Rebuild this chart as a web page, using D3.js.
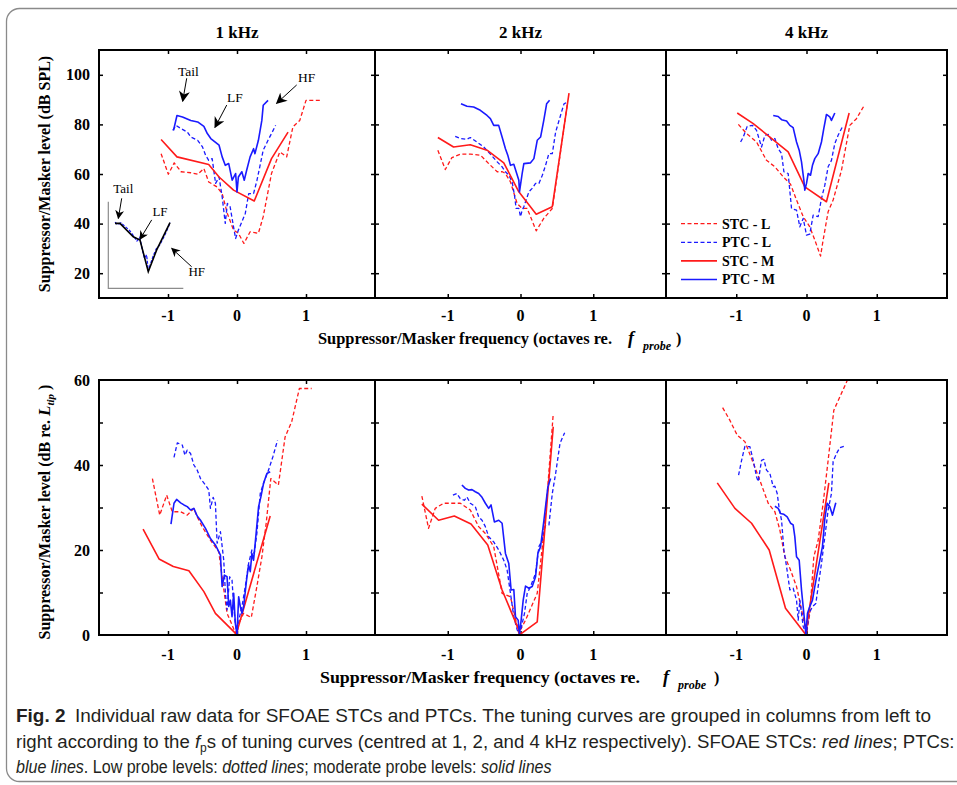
<!DOCTYPE html>
<html><head><meta charset="utf-8">
<script src="https://cdn.jsdelivr.net/npm/d3@7/dist/d3.min.js"></script>
<style>body{margin:0;background:#fff}svg{display:block}</style>
</head><body><svg id="chart" width="957" height="785"></svg>
<script>
// ---------------- DATA ----------------
const columnTitles = ["1 kHz", "2 kHz", "4 kHz"];
const xTickValues = [-1, 0, 1];
const topYTicks = [20, 40, 60, 80, 100];
const bottomYTickMarks = [10, 20, 30, 40, 50];
const bottomYTickLabels = [0, 20, 40, 60];
const legendLabels = ["STC - L", "PTC - L", "STC - M", "PTC - M"];

// Top row (dB SPL)  [octaves re. fprobe, level]
const top1_STC_L = [[-1.10,68.2],[-0.995,59.9],[-0.91,64.5],[-0.81,60.9],[-0.67,60.5],[-0.57,59.9],[-0.48,62.2],[-0.41,56.8],[-0.29,54.8],[-0.215,52.1],[-0.14,44.1],[-0.05,37.4],[0.02,36.1],[0.10,32.0],[0.19,36.7],[0.31,36.1],[0.38,42.8],[0.50,60.2],[0.62,68.9],[0.72,66.9],[0.81,79.0],[0.91,81.6],[1.00,89.7],[1.20,89.7]];
const top1_PTC_L = [[-0.93,77.6],[-0.885,79.6],[-0.81,78.3],[-0.72,76.9],[-0.67,74.9],[-0.57,73.6],[-0.50,70.9],[-0.455,67.6],[-0.41,65.5],[-0.36,66.2],[-0.31,56.2],[-0.26,58.8],[-0.215,50.8],[-0.17,40.1],[-0.14,48.1],[-0.10,46.8],[-0.05,38.7],[-0.02,34.0],[0.02,37.4],[0.07,40.7],[0.12,44.1],[0.17,52.1],[0.24,52.1],[0.29,57.5],[0.33,62.9],[0.38,69.6],[0.45,73.6],[0.50,76.3],[0.56,79.6]];
const top1_STC_M = [[-1.10,73.9],[-0.87,66.9],[-0.41,63.8],[-0.26,58.8],[-0.05,53.5],[0.25,49.1],[0.50,66.2],[0.74,76.9]];
const top1_PTC_M = [[-0.92,77.6],[-0.87,83.6],[-0.79,83.0],[-0.67,81.6],[-0.57,81.0],[-0.48,79.2],[-0.43,76.3],[-0.38,74.3],[-0.26,71.6],[-0.215,66.9],[-0.17,63.5],[-0.12,64.2],[-0.07,57.5],[-0.02,60.2],[0.0,52.8],[0.02,58.8],[0.07,60.9],[0.105,57.5],[0.14,61.5],[0.19,66.9],[0.24,70.2],[0.26,68.2],[0.31,73.6],[0.36,81.6],[0.38,87.7],[0.45,89.7]];

const top2_STC_L = [[-1.136,69.6],[-1.034,61.8],[-0.943,66.6],[-0.828,68.0],[-0.69,68.0],[-0.55,67.6],[-0.437,64.2],[-0.32,60.9],[-0.25,60.9],[-0.207,60.2],[-0.138,56.8],[-0.046,48.1],[0.023,46.1],[0.092,46.1],[0.216,37.1],[0.32,42.1],[0.437,46.1],[0.55,68.9],[0.644,88.3]];
const top2_PTC_L = [[-0.897,75.2],[-0.828,74.3],[-0.736,74.0],[-0.69,74.7],[-0.598,72.9],[-0.506,70.9],[-0.414,68.0],[-0.32,64.9],[-0.253,62.9],[-0.207,60.9],[-0.16,59.5],[-0.115,56.8],[-0.083,51.5],[-0.06,46.1],[-0.023,46.1],[0.0,42.8],[0.023,45.4],[0.046,46.8],[0.069,48.8],[0.115,52.8],[0.16,54.2],[0.207,56.2],[0.253,56.2],[0.30,59.5],[0.345,63.5],[0.39,68.2],[0.437,68.2],[0.483,76.9],[0.55,83.6],[0.598,88.3],[0.644,89.0]];
const top2_STC_M = [[-1.136,74.7],[-0.92,70.9],[-0.69,71.8],[-0.46,69.6],[-0.23,64.5],[-0.023,52.8],[0.216,43.8],[0.437,46.8],[0.667,92.6]];
const top2_PTC_M = [[-0.818,88.3],[-0.736,87.3],[-0.644,87.0],[-0.552,85.7],[-0.46,83.6],[-0.414,82.3],[-0.368,79.6],[-0.30,79.6],[-0.253,74.9],[-0.207,70.2],[-0.175,67.6],[-0.138,63.5],[-0.092,63.9],[-0.023,57.5],[-0.014,52.8],[0.023,60.2],[0.046,64.2],[0.138,64.5],[0.184,66.2],[0.23,73.6],[0.276,74.9],[0.32,81.6],[0.359,88.3],[0.40,89.7]];

const top3_STC_L = [[-0.97,80.0],[-0.853,76.3],[-0.711,72.9],[-0.569,65.5],[-0.45,62.9],[-0.33,58.8],[-0.227,55.9],[-0.142,49.5],[-0.047,42.8],[0.047,38.7],[0.118,33.4],[0.20,26.9],[0.237,33.4],[0.308,44.8],[0.379,49.5],[0.498,61.5],[0.616,79.6],[0.711,82.3],[0.815,87.3]];
const top3_PTC_L = [[-0.938,72.9],[-0.90,74.9],[-0.844,79.2],[-0.768,79.6],[-0.711,77.6],[-0.64,70.9],[-0.592,75.6],[-0.545,76.0],[-0.498,73.6],[-0.45,74.3],[-0.403,70.2],[-0.355,68.2],[-0.322,60.9],[-0.261,60.2],[-0.213,46.1],[-0.142,45.4],[-0.095,38.7],[-0.047,42.1],[0.0,35.4],[0.047,35.8],[0.095,43.4],[0.166,42.8],[0.213,50.1],[0.261,55.5],[0.308,62.9],[0.355,65.5],[0.403,72.3],[0.45,75.6],[0.521,79.6]];
const top3_STC_M = [[-0.986,84.6],[-0.758,80.3],[-0.521,74.9],[-0.261,68.9],[-0.024,54.8],[0.284,48.8],[0.607,84.6]];
const top3_PTC_M = [[-0.474,83.6],[-0.403,83.2],[-0.355,81.9],[-0.284,81.4],[-0.237,79.6],[-0.19,78.7],[-0.142,72.9],[-0.104,69.6],[-0.071,64.9],[-0.038,57.5],[-0.024,53.5],[0.0,56.2],[0.024,60.2],[0.057,59.5],[0.085,63.5],[0.118,66.2],[0.166,68.2],[0.213,72.9],[0.246,78.3],[0.284,84.0],[0.332,83.0],[0.355,81.6],[0.403,84.6]];

// Bottom row (dB re. Ltip)
const bot1_STC_L = [[-1.226,36.8],[-1.12,28.2],[-1.019,32.9],[-0.938,29.0],[-0.817,29.0],[-0.721,28.2],[-0.625,29.8],[-0.577,27.8],[-0.505,25.5],[-0.385,22.3],[-0.264,19.6],[-0.216,13.7],[-0.144,5.1],[-0.072,2.4],[-0.024,0.4],[0.024,2.7],[0.096,5.1],[0.207,4.1],[0.288,11.4],[0.361,18.4],[0.423,26.3],[0.49,36.8],[0.60,35.3],[0.697,46.6],[0.793,50.2],[0.904,58.0],[1.082,58.0]];
const bot1_PTC_L = [[-0.913,41.8],[-0.865,45.2],[-0.793,44.7],[-0.755,42.3],[-0.721,43.5],[-0.673,42.7],[-0.625,40.0],[-0.577,38.8],[-0.529,36.8],[-0.457,35.3],[-0.409,34.1],[-0.385,29.8],[-0.346,32.4],[-0.313,31.0],[-0.288,21.6],[-0.24,24.3],[-0.192,17.6],[-0.168,9.8],[-0.144,5.9],[-0.106,13.7],[-0.072,12.9],[-0.048,6.7],[-0.024,2.7],[0.0,0.2],[0.038,4.3],[0.072,6.7],[0.12,11.4],[0.168,16.8],[0.216,20.0],[0.25,19.2],[0.288,23.9],[0.337,33.3],[0.385,35.7],[0.457,38.8],[0.519,41.9],[0.587,45.8]];
const bot1_STC_M = [[-1.361,24.9],[-1.13,17.9],[-0.923,16.1],[-0.697,15.1],[-0.48,10.2],[-0.313,5.1],[-0.01,0.2],[0.481,28.0]];
const bot1_PTC_M = [[-0.957,26.1],[-0.913,31.0],[-0.875,31.9],[-0.817,31.1],[-0.769,30.6],[-0.721,30.2],[-0.673,29.4],[-0.625,29.8],[-0.577,28.0],[-0.529,27.0],[-0.457,25.1],[-0.385,22.7],[-0.313,21.2],[-0.288,20.4],[-0.24,18.8],[-0.216,11.4],[-0.183,14.1],[-0.144,13.7],[-0.12,6.7],[-0.096,8.2],[-0.072,4.3],[-0.048,9.8],[-0.024,2.7],[0.0,0.2],[0.024,9.0],[0.048,6.7],[0.072,5.1],[0.096,6.7],[0.144,13.7],[0.168,16.5],[0.192,14.9],[0.216,19.2],[0.24,17.6],[0.264,21.6],[0.313,30.2],[0.346,32.5],[0.385,35.7],[0.433,38.0],[0.481,38.4]];

const bot2_STC_L = [[-1.356,32.7],[-1.264,25.1],[-1.172,29.8],[-1.057,31.0],[-0.828,31.0],[-0.69,29.4],[-0.575,25.5],[-0.483,23.9],[-0.368,20.8],[-0.253,9.8],[-0.138,9.0],[-0.023,0.4],[0.069,3.5],[0.23,9.8],[0.30,20.8],[0.368,33.3],[0.45,52.1]];
const bot2_PTC_L = [[-0.929,32.9],[-0.874,33.3],[-0.828,32.1],[-0.772,31.7],[-0.736,32.5],[-0.69,31.0],[-0.621,30.2],[-0.575,27.8],[-0.529,27.0],[-0.483,25.5],[-0.437,23.1],[-0.368,21.9],[-0.299,20.0],[-0.23,17.6],[-0.184,15.3],[-0.138,9.8],[-0.092,4.3],[-0.046,1.2],[-0.009,0.2],[0.023,2.7],[0.055,5.1],[0.092,9.8],[0.138,11.4],[0.207,14.5],[0.253,20.8],[0.299,22.3],[0.345,25.9],[0.391,25.9],[0.437,33.3],[0.483,38.0],[0.543,45.1],[0.607,47.6]];
const bot2_STC_M = [[-1.356,30.8],[-1.126,27.0],[-0.91,28.0],[-0.68,26.1],[-0.45,21.2],[-0.253,10.6],[0.0,0.2],[0.23,3.1],[0.45,49.0]];
const bot2_PTC_M = [[-0.805,35.3],[-0.759,34.5],[-0.713,34.1],[-0.667,34.2],[-0.621,33.7],[-0.575,33.3],[-0.529,32.4],[-0.483,31.0],[-0.437,29.8],[-0.405,30.6],[-0.359,26.6],[-0.299,27.0],[-0.253,26.3],[-0.207,19.2],[-0.161,16.8],[-0.129,10.6],[-0.092,10.7],[-0.069,4.3],[-0.032,3.5],[-0.014,0.2],[0.009,3.5],[0.037,8.2],[0.069,11.5],[0.115,11.0],[0.161,11.4],[0.207,13.7],[0.239,19.2],[0.276,20.8],[0.322,27.0],[0.377,34.9],[0.414,36.8]];

const bot3_STC_L = [[-1.194,53.5],[-1.09,50.5],[-0.986,47.0],[-0.877,45.5],[-0.782,41.5],[-0.664,36.4],[-0.545,31.0],[-0.45,29.0],[-0.379,24.7],[-0.308,18.4],[-0.237,15.7],[-0.142,11.4],[-0.057,4.9],[0.0,0.2],[0.047,5.1],[0.104,18.4],[0.166,22.3],[0.237,31.0],[0.308,41.1],[0.389,52.9],[0.474,56.0],[0.578,59.8]];
const bot3_PTC_L = [[-0.967,37.6],[-0.924,41.1],[-0.877,44.4],[-0.806,44.3],[-0.758,41.1],[-0.711,37.2],[-0.687,36.1],[-0.64,41.1],[-0.607,41.3],[-0.569,38.8],[-0.521,38.0],[-0.474,34.9],[-0.45,35.0],[-0.417,33.3],[-0.389,29.8],[-0.355,27.0],[-0.322,20.0],[-0.284,16.1],[-0.237,10.6],[-0.19,11.0],[-0.142,8.2],[-0.118,3.5],[-0.095,8.2],[-0.047,2.0],[0.0,0.2],[0.038,5.1],[0.085,6.7],[0.133,7.4],[0.166,11.4],[0.213,16.8],[0.261,23.1],[0.308,29.4],[0.355,33.3],[0.379,40.8],[0.427,42.7],[0.474,44.1],[0.531,44.4]];
const bot3_STC_M = [[-1.27,35.8],[-1.019,29.8],[-0.782,26.3],[-0.531,20.0],[-0.299,6.3],[-0.014,0.2],[0.318,35.8]];
const bot3_PTC_M = [[-0.45,30.3],[-0.403,29.8],[-0.37,28.6],[-0.322,28.4],[-0.275,27.8],[-0.227,26.3],[-0.19,25.9],[-0.166,23.1],[-0.142,18.4],[-0.104,17.6],[-0.071,10.6],[-0.038,5.1],[-0.009,0.2],[0.014,5.1],[0.047,6.7],[0.085,8.2],[0.118,11.4],[0.152,14.5],[0.19,17.6],[0.227,20.8],[0.261,27.4],[0.294,31.0],[0.332,30.2],[0.37,28.2],[0.417,31.1]];

// Schematic inset in the 1 kHz panel (same units as that panel)
const insetCurve = [[-1.768,40.1],[-1.696,40.1],[-1.503,34.7],[-1.406,33.4],[-1.286,20.6],[-1.164,29.4],[-0.971,40.4]];
const insetCurveRaw = [[-1.768,40.6],[-1.73,39.6],[-1.68,40.3],[-1.62,38.8],[-1.56,37.3],[-1.50,35.1],[-1.45,33.0],[-1.41,34.4],[-1.37,29.2],[-1.34,26.0],[-1.31,27.4],[-1.286,21.0],[-1.25,24.0],[-1.21,27.3],[-1.17,29.8],[-1.12,31.4],[-1.06,34.6],[-1.01,37.6],[-0.971,40.4]];
const insetAxis = [[-1.865,48.8],[-1.865,13.9],[-0.778,13.9]];
const annotLabels = ["Tail", "LF", "HF", "Tail", "LF", "HF"];
const annotTextPos = [[-0.705,101.3],[-0.029,90.9],[1.01,99.2],[-1.648,54.2],[-1.116,44.8],[-0.584,20.6]];
const annotArrowFrom = [[-0.729,98.6],[-0.149,87.8],[0.865,95.9],[-1.671,50.2],[-1.236,41.5],[-0.657,22.6]];
const annotArrowTo = [[-0.787,89.4],[-0.319,78.8],[0.575,88.5],[-1.72,42.1],[-1.406,33.7],[-0.946,30.0]];

// ---------------- LAYOUT ----------------
const panelLeft = [99, 375, 666];
const panelRight = [375, 666, 947];
const rows = [
  {top: 50, bottom: 298, domain: [10, 110],
   series: [[top1_STC_L, top1_PTC_L, top1_STC_M, top1_PTC_M],
            [top2_STC_L, top2_PTC_L, top2_STC_M, top2_PTC_M],
            [top3_STC_L, top3_PTC_L, top3_STC_M, top3_PTC_M]],
   tickMarks: topYTicks, tickLabels: topYTicks, xLabelY: 321},
  {top: 380, bottom: 635, domain: [0, 60],
   series: [[bot1_STC_L, bot1_PTC_L, bot1_STC_M, bot1_PTC_M],
            [bot2_STC_L, bot2_PTC_L, bot2_STC_M, bot2_PTC_M],
            [bot3_STC_L, bot3_PTC_L, bot3_STC_M, bot3_PTC_M]],
   tickMarks: bottomYTickMarks, tickLabels: bottomYTickLabels, xLabelY: 660}
];
const RED = "#ff1a1a", BLUE = "#1a1aff";
const styles = [
  {color: RED, dash: "4,2.5", width: 1.3},
  {color: BLUE, dash: "4,2.5", width: 1.3},
  {color: RED, dash: null, width: 1.6},
  {color: BLUE, dash: null, width: 1.6}
];
const SERIF = "'Liberation Serif','Times New Roman',serif";

const svg = d3.select("#chart");
svg.append("rect").attr("width", 957).attr("height", 785).attr("fill", "#fff");

// outer frame
svg.append("rect").attr("x", 6.5).attr("y", 8.5).attr("width", 980).attr("height", 773)
  .attr("rx", 13).attr("fill", "none").attr("stroke", "#8a8a8a").attr("stroke-width", 1.3);

const defs = svg.append("defs");
defs.append("marker").attr("id", "ah").attr("viewBox", "0 0 10 10").attr("refX", 9).attr("refY", 5)
  .attr("markerWidth", 11).attr("markerHeight", 11).attr("markerUnits", "userSpaceOnUse").attr("orient", "auto")
  .append("path").attr("d", "M0,0 L10,5 L0,10 L3,5 Z").attr("fill", "#000");
defs.append("marker").attr("id", "ahs").attr("viewBox", "0 0 10 10").attr("refX", 9).attr("refY", 5)
  .attr("markerWidth", 9).attr("markerHeight", 9).attr("markerUnits", "userSpaceOnUse").attr("orient", "auto")
  .append("path").attr("d", "M0,0 L10,5 L0,10 L3,5 Z").attr("fill", "#000");

let panel1TopScales = null;

rows.forEach((row, ri) => {
  const y = d3.scaleLinear().domain(row.domain).range([row.bottom, row.top]);
  for (let ci = 0; ci < 3; ci++) {
    const x = d3.scaleLinear().domain([-2, 2]).range([panelLeft[ci], panelRight[ci]]);
    if (ri === 0 && ci === 0) panel1TopScales = {x, y};
    const g = svg.append("g");
    g.append("g").attr("transform", `translate(0,${row.bottom})`)
      .call(d3.axisBottom(x).tickValues(xTickValues).tickSizeInner(-4).tickSizeOuter(0).tickFormat(""))
      .call(a => a.select(".domain").remove());
    g.append("g").attr("transform", `translate(0,${row.top})`)
      .call(d3.axisTop(x).tickValues(xTickValues).tickSizeInner(-4).tickSizeOuter(0).tickFormat(""))
      .call(a => a.select(".domain").remove());
    g.append("g").attr("transform", `translate(${panelLeft[ci]},0)`)
      .call(d3.axisLeft(y).tickValues(row.tickMarks).tickSizeInner(-4).tickSizeOuter(0).tickFormat(""))
      .call(a => a.select(".domain").remove());
    g.append("g").attr("transform", `translate(${panelRight[ci]},0)`)
      .call(d3.axisRight(y).tickValues(row.tickMarks).tickSizeInner(-4).tickSizeOuter(0).tickFormat(""))
      .call(a => a.select(".domain").remove());
    g.selectAll(".tick line").attr("stroke", "#000").attr("stroke-width", 1.5);

    g.selectAll("text.xt").data(xTickValues).join("text").attr("class", "xt")
      .attr("x", d => x(d)).attr("y", row.xLabelY).attr("text-anchor", "middle")
      .attr("font-family", SERIF).attr("font-weight", "bold").attr("font-size", 16)
      .text(d => d3.format("d")(d).replace("\u2212", "-"));

    const line = d3.line().x(d => x(d[0])).y(d => y(d[1]));
    row.series[ci].forEach((data, si) => {
      const st = styles[si];
      g.append("path").datum(data).attr("d", line).attr("fill", "none")
        .attr("stroke", st.color).attr("stroke-width", st.width)
        .attr("stroke-dasharray", st.dash).attr("stroke-linejoin", "round");
    });

    g.append("rect").attr("x", panelLeft[ci]).attr("y", row.top)
      .attr("width", panelRight[ci] - panelLeft[ci]).attr("height", row.bottom - row.top)
      .attr("fill", "none").attr("stroke", "#000").attr("stroke-width", 2);

    if (ri === 0) {
      svg.append("text").attr("x", x(0)).attr("y", 38).attr("text-anchor", "middle")
        .attr("font-family", SERIF).attr("font-weight", "bold").attr("font-size", 17)
        .text(columnTitles[ci]);
    }
  }
  svg.append("g").selectAll("text").data(row.tickLabels).join("text")
    .attr("x", 90).attr("y", d => y(d)).attr("dy", "0.35em").attr("text-anchor", "end")
    .attr("font-family", SERIF).attr("font-weight", "bold").attr("font-size", 16)
    .text(d => d);
});

// ---- axis titles ----
function yTitle(cy, parts) {
  const t = svg.append("text").attr("transform", `translate(50,${cy}) rotate(-90)`)
    .attr("text-anchor", "middle").attr("font-family", SERIF).attr("font-weight", "bold").attr("font-size", 16);
  parts.forEach(p => {
    const ts = t.append("tspan").text(p.t);
    if (p.it) ts.attr("font-style", "italic");
    if (p.fs) ts.attr("font-size", p.fs);
    if (p.dy) ts.attr("dy", p.dy);
  });
}
yTitle(174, [{t: "Suppressor/Masker level (dB SPL)"}]);
yTitle(512, [{t: "Suppressor/Masker level (dB re. "}, {t: "L", it: true, fs: 17}, {t: "tip", it: true, fs: 11, dy: 4}, {t: " )", dy: -4}]);

function xTitle(x0, base, fx, px, cx, len) {
  const common = s => s.attr("font-family", SERIF).attr("font-weight", "bold");
  common(svg.append("text")).attr("x", x0).attr("y", base).attr("font-size", 16)
    .attr("textLength", len).attr("lengthAdjust", "spacingAndGlyphs")
    .text("Suppressor/Masker frequency (octaves re.");
  common(svg.append("text")).attr("x", fx).attr("y", base).attr("font-size", 18).attr("font-style", "italic").text("f");
  common(svg.append("text")).attr("x", px).attr("y", base + 6).attr("font-size", 12).attr("font-style", "italic").text("probe");
  common(svg.append("text")).attr("x", cx).attr("y", base).attr("font-size", 16).text(")");
}
xTitle(318, 344, 628, 643, 676, 294);
xTitle(320, 683, 663, 678, 714, 320);

// ---- legend (4 kHz top panel) ----
const lg = svg.append("g");
legendLabels.forEach((lab, i) => {
  const st = styles[i];
  const yy = 223.7 + i * 18.6;
  lg.append("line").attr("x1", 681).attr("x2", 717).attr("y1", yy).attr("y2", yy)
    .attr("stroke", st.color).attr("stroke-width", st.width).attr("stroke-dasharray", st.dash);
  lg.append("text").attr("x", 722).attr("y", yy).attr("dy", "0.35em")
    .attr("font-family", SERIF).attr("font-weight", "bold").attr("font-size", 14).text(lab);
});

// ---- annotations & schematic inset (1 kHz top panel) ----
{
  const {x, y} = panel1TopScales;
  const ln = d3.line().x(d => x(d[0])).y(d => y(d[1]));
  svg.append("path").datum(insetAxis).attr("d", ln).attr("fill", "none").attr("stroke", "#8c8c8c").attr("stroke-width", 1.2);
  svg.append("path").datum(insetCurveRaw).attr("d", ln).attr("fill", "none").attr("stroke", BLUE).attr("stroke-width", 1.3).attr("stroke-dasharray", "3,1.5");
  svg.append("path").datum(insetCurve).attr("d", ln).attr("fill", "none").attr("stroke", "#000").attr("stroke-width", 1.6);
  annotLabels.forEach((lab, i) => {
    const small = i >= 3;
    svg.append("text").attr("x", x(annotTextPos[i][0])).attr("y", y(annotTextPos[i][1])).attr("dy", "0.35em")
      .attr("text-anchor", "middle").attr("font-family", SERIF).attr("font-size", small ? 13 : 13.5).text(lab);
    svg.append("line").attr("x1", x(annotArrowFrom[i][0])).attr("y1", y(annotArrowFrom[i][1]))
      .attr("x2", x(annotArrowTo[i][0])).attr("y2", y(annotArrowTo[i][1]))
      .attr("stroke", "#000").attr("stroke-width", 1).attr("marker-end", small ? "url(#ahs)" : "url(#ah)");
  });
}

// ---- caption (condensed by horizontal scaling) ----
const CAP = "'Liberation Sans Narrow','Arial Narrow','Liberation Sans',sans-serif";
function capLine(yb, len, parts) {
  const t = svg.append("text").attr("x", 0).attr("y", 0).attr("font-family", CAP).attr("font-size", 18.5)
    .attr("fill", "#231f20");
  parts.forEach(p => {
    const ts = t.append("tspan").text(p.t);
    if (p.b) ts.attr("font-weight", "bold");
    if (p.it) ts.attr("font-style", "italic");
    if (p.fs) ts.attr("font-size", p.fs);
    if (p.dy) ts.attr("dy", p.dy);
  });
  const w = t.node().getComputedTextLength();
  t.attr("transform", `translate(16,${yb}) scale(${len / w},1)`);
}
capLine(722, 916, [{t: "Fig. 2", b: true}, {t: "\u2002Individual raw data for SFOAE STCs and PTCs. The tuning curves are grouped in columns from left to"}]);
capLine(748, 939, [{t: "right according to the "}, {t: "f", it: true}, {t: "p", fs: 12, dy: 4}, {t: "s of tuning curves (centred at 1, 2, and 4 kHz respectively). SFOAE STCs: ", dy: -4}, {t: "red lines", it: true}, {t: "; PTCs:"}]);
capLine(773, 536, [{t: "blue lines", it: true}, {t: ". Low probe levels: "}, {t: "dotted lines", it: true}, {t: "; moderate probe levels: "}, {t: "solid lines", it: true}]);
</script></body></html>
